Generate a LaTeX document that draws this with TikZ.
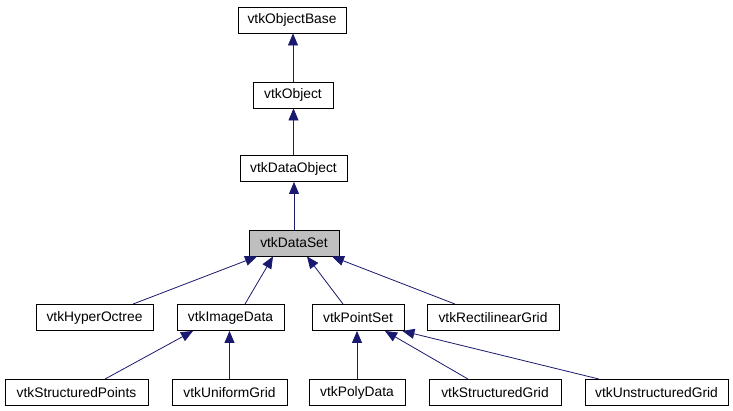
\documentclass[tikz,border=0pt]{standalone}
\usepackage{fontspec}
\setmainfont{Liberation Sans}
\usetikzlibrary{arrows.meta}
\definecolor{edgeblue}{HTML}{191970}
\definecolor{hlgray}{HTML}{BFBFBF}
\begin{document}
\begin{tikzpicture}[x=1pt,y=-1pt,
  cls/.style={draw=black,line width=0.9pt,fill=white,inner sep=0pt,minimum height=26pt,
    font=\fontsize{13.8}{15}\selectfont,text=black},
  edge/.style={draw=edgeblue,line width=0.8pt,-{Triangle[length=12pt,width=10pt]}}]
\useasboundingbox (0,0) rectangle (733,411);
\fill[white] (0,0) rectangle (733,411);
% nodes
\node[cls,minimum width=108pt] (objbase) at (292,20) {vtkObjectBase};
\node[cls,minimum width=80pt] (obj) at (293,95) {vtkObject};
\node[cls,minimum width=107pt] (dataobj) at (293.5,168.5) {vtkDataObject};
\node[cls,minimum width=90pt,fill=hlgray] (dataset) at (294,243) {vtkDataSet};
\node[cls,minimum width=117pt] (hyper) at (94.5,317.5) {vtkHyperOctree};
\node[cls,minimum width=107pt] (image) at (230.5,317.5) {vtkImageData};
\node[cls,minimum width=92pt] (pointset) at (358,317.5) {vtkPointSet};
\node[cls,minimum width=132pt] (rect) at (493,317.5) {vtkRectilinearGrid};
\node[cls,minimum width=143pt] (spoints) at (76.5,392.5) {vtkStructuredPoints};
\node[cls,minimum width=115pt] (uniform) at (229.5,392.5) {vtkUniformGrid};
\node[cls,minimum width=96pt] (poly) at (357,392.5) {vtkPolyData};
\node[cls,minimum width=132pt] (sgrid) at (495,392.5) {vtkStructuredGrid};
\node[cls,minimum width=143pt] (ugrid) at (656.5,392.5) {vtkUnstructuredGrid};
% edges
\draw[edge] (obj.north) -- (obj.north |- objbase.south);
\draw[edge] (dataobj.north) -- (dataobj.north |- obj.south);
\draw[edge] (dataset.north) -- (dataset.north |- dataobj.south);
\draw[edge] ([xshift=38.5pt]hyper.north) -- ([xshift=-37pt]dataset.south);
\draw[edge] ([xshift=14.5pt]image.north) -- ([xshift=-21pt]dataset.south);
\draw[edge] ([xshift=-15pt]pointset.north) -- ([xshift=13pt]dataset.south);
\draw[edge] ([xshift=-38pt]rect.north) -- ([xshift=38pt]dataset.south);
\draw[edge] ([xshift=28.5pt]spoints.north) -- ([xshift=-37.5pt]image.south);
\draw[edge] (uniform.north) -- (uniform.north |- image.south);
\draw[edge] (poly.north) -- (poly.north |- pointset.south);
\draw[edge] ([xshift=-27pt]sgrid.north) -- ([xshift=27pt]pointset.south);
\draw[edge] ([xshift=-57.5pt]ugrid.north) -- ([xshift=-2pt]pointset.south east);
\end{tikzpicture}
\end{document}
